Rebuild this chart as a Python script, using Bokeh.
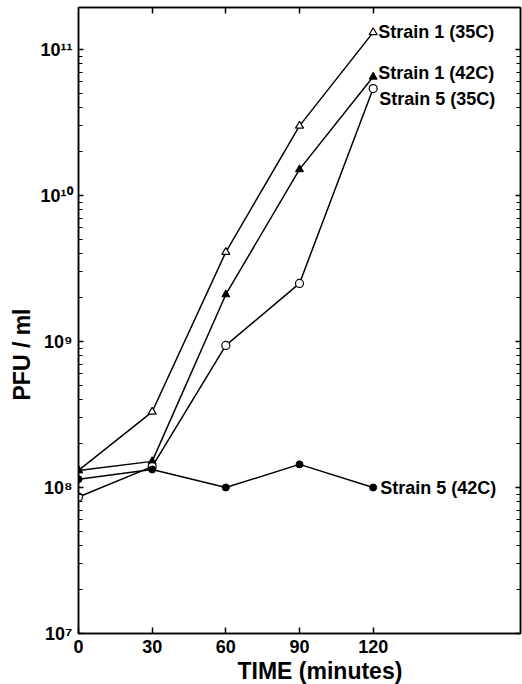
from bokeh.plotting import figure
from bokeh.models import (LinearAxis, LogAxis, FixedTicker, Title, Range1d,
                          ColumnDataSource, CustomJSTickFormatter)
from bokeh.core.properties import value
from bokeh.embed import file_html
from bokeh.resources import INLINE

# ---- data ----
time_min = [0, 30, 60, 90, 120]
strain1_35 = [1.31e8, 3.3e8, 4.1e9, 3.0e10, 1.31e11]
strain1_42 = [1.31e8, 1.51e8, 2.1e9, 1.51e10, 6.5e10]
strain5_35 = [8.6e7, 1.39e8, 9.4e8, 2.5e9, 5.4e10]
strain5_42 = [1.14e8, 1.33e8, 1.0e8, 1.44e8, 1.0e8]

series_names = ["Strain 1 (35C)", "Strain 1 (42C)", "Strain 5 (35C)", "Strain 5 (42C)"]

x_ticks = [0, 30, 60, 90, 120]
x_tick_labels = ["0", "30", "60", "90", "120"]
y_ticks = [1e7, 1e8, 1e9, 1e10, 1e11]
y_tick_labels = ["10\u2077", "10\u2078", "10\u2079", "10\u00b9\u2070", "10\u00b9\u00b9"]
y_minor = [k * 10.0 ** n for n in range(7, 11) for k in range(2, 10)]

FONT = "Liberation Sans"

p = figure(width=522, height=684,
           x_range=Range1d(0, 180), y_range=Range1d(1e7, 1.94e11),
           y_axis_type="log", x_axis_location=None, y_axis_location=None,
           output_backend="svg", toolbar_location=None,
           min_border_left=78, min_border_right=2, min_border_top=7, min_border_bottom=51)
p.outline_line_color = "black"
p.outline_line_width = 1.5
p.background_fill_color = "white"
p.border_fill_color = "white"
p.grid.grid_line_color = None

blank = CustomJSTickFormatter(code="return ''")

def style_axis(ax, labels=True, tick_in=5, minor_in=0):
    ax.axis_line_color = "black"
    ax.axis_line_width = 1.5
    ax.major_tick_in = tick_in
    ax.major_tick_out = 0
    ax.minor_tick_in = minor_in
    ax.minor_tick_out = 0
    ax.major_tick_line_width = 1.5
    ax.minor_tick_line_width = 1.2
    ax.major_label_text_font = FONT
    ax.major_label_text_font_style = "bold"
    ax.major_label_text_font_size = "18px"
    ax.major_label_text_color = "black"
    if not labels:
        ax.formatter = blank
        ax.major_label_standoff = 0

# bottom axis
xb = LinearAxis(ticker=FixedTicker(ticks=x_ticks),
                major_label_overrides={t: l for t, l in zip(x_ticks, x_tick_labels)})
style_axis(xb, True, 6)
xb.major_label_standoff = 6
p.add_layout(xb, "below")

# top axis (ticks only)
xt = LinearAxis(ticker=FixedTicker(ticks=x_ticks[1:]))
style_axis(xt, False, 6)
p.add_layout(xt, "above")

# left axis
yl = LogAxis(ticker=FixedTicker(ticks=y_ticks, minor_ticks=y_minor),
             major_label_overrides={t: l for t, l in zip(y_ticks, y_tick_labels)})
style_axis(yl, True, 5, 4)
yl.major_label_standoff = 6
p.add_layout(yl, "left")

# right axis (ticks only)
yr = LogAxis(ticker=FixedTicker(ticks=y_ticks, minor_ticks=y_minor))
style_axis(yr, False, 5, 4)
p.add_layout(yr, "right")

# axis titles
p.add_layout(Title(text="TIME (minutes)", align="left", offset=159, standoff=1,
                   text_color="black",
                   text_font=FONT, text_font_style="bold", text_font_size="23px"), "below")
p.add_layout(Title(text="PFU / ml", align="left", offset=233, standoff=6,
                   text_color="black",
                   text_font=FONT, text_font_style="bold", text_font_size="23px"), "left")

LW = 1.5
# Strain 1 (35C): open triangles
p.line(time_min, strain1_35, line_color="black", line_width=LW)
p.scatter(time_min, strain1_35, marker="triangle", size=8, fill_color="white", line_color="black", line_width=1.2)
# Strain 1 (42C): filled triangles
p.line(time_min, strain1_42, line_color="black", line_width=LW)
p.scatter(time_min, strain1_42, marker="triangle", size=8, fill_color="black", line_color="black")
# Strain 5 (35C): open circles
p.line(time_min, strain5_35, line_color="black", line_width=LW)
p.scatter(time_min, strain5_35, marker="circle", size=8, fill_color="white", line_color="black", line_width=1.2)
# Strain 5 (42C): filled circles
p.line(time_min, strain5_42, line_color="black", line_width=LW)
p.scatter(time_min, strain5_42, marker="circle", size=7, fill_color="black", line_color="black")

# end-of-line labels
last_x = [time_min[-1]] * 4
last_y = [strain1_35[-1], strain1_42[-1], strain5_35[-1], strain5_42[-1]]
src = ColumnDataSource(dict(x=last_x, y=last_y, text=series_names,
                            yo=[0, -4, 10, 0], xo=[5, 5, 6, 7]))
p.text(x="x", y="y", text="text", x_offset="xo", y_offset="yo", source=src,
       text_font=value(FONT), text_font_style="bold", text_font_size="18px",
       text_align="left", text_baseline="middle", text_color="black")

open("out.html", "w").write(file_html(p, INLINE))
